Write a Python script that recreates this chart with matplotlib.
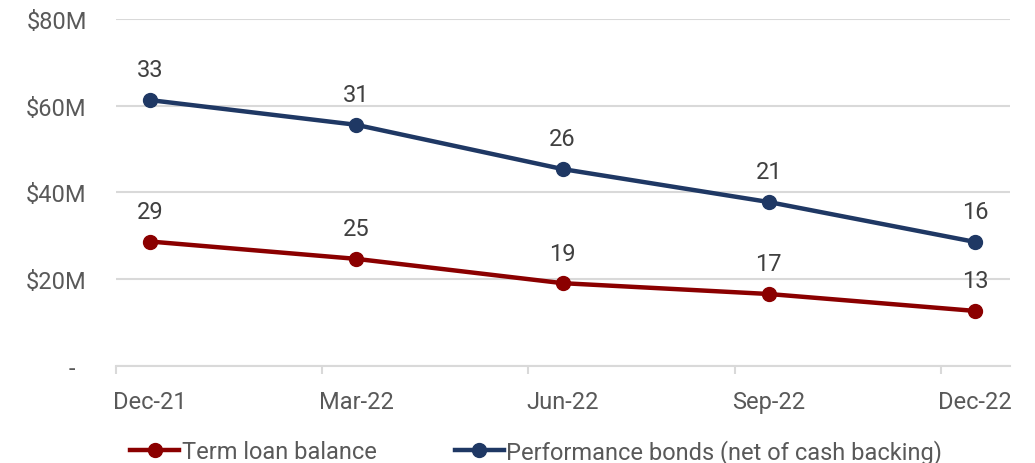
import matplotlib.pyplot as plt
import numpy as np

plt.rcParams['font.family'] = ['Roboto', 'DejaVu Sans']

quarters = ['Dec-21', 'Mar-22', 'Jun-22', 'Sep-22', 'Dec-22']
term_loan = [28.7, 24.7, 19.1, 16.6, 12.7]
perf_bonds = [32.6, 30.9, 26.3, 21.2, 15.9]
yticks = [0, 20, 40, 60, 80]
ytick_labels = ['-  ', '$20M', '$40M', '$60M', '$80M']

red = '#8B0000'
navy = '#1F3864'
txt = '#404040'
lbl = '#595959'

x = np.arange(len(quarters))
loan = np.array(term_loan)
stacked = loan + np.array(perf_bonds)

fig = plt.figure(figsize=(10.35, 4.64), dpi=100)
ax = fig.add_axes([0.112, 0.209, 0.864, 0.748])

ax.plot(x, loan, color=red, lw=3.2, marker='o', ms=10, label='Term loan balance', zorder=3)
ax.plot(x, stacked, color=navy, lw=3.2, marker='o', ms=10,
        label='Performance bonds (net of cash backing)', zorder=3)

for xi, yv, v in zip(x, loan, term_loan):
    ax.annotate('%d' % round(v), (xi, yv), xytext=(0, 17), textcoords='offset points',
                ha='center', va='baseline', fontsize=17, color=txt)
for xi, yv, v in zip(x, stacked, perf_bonds):
    ax.annotate('%d' % round(v), (xi, yv), xytext=(0, 17), textcoords='offset points',
                ha='center', va='baseline', fontsize=17, color=txt)

ax.set_xlim(-0.165, 4.17)
ax.set_ylim(0, 80)
ax.set_yticks(yticks)
ax.set_yticklabels(ytick_labels)
ax.set_xticks(x)
ax.set_xticklabels(quarters)
ax.tick_params(axis='both', length=0, labelsize=17, labelcolor=lbl)
ax.tick_params(axis='x', pad=17)
ax.tick_params(axis='y', pad=21)
ax.set_xticks(np.arange(5) - 0.165, minor=True)
ax.tick_params(axis='x', which='minor', length=6, color='#d9d9d9', width=1.5)

ax.grid(axis='y', color='#d9d9d9', lw=1.5)
ax.set_axisbelow(True)
for s in ['top', 'right', 'left']:
    ax.spines[s].set_visible(False)
ax.spines['bottom'].set_color('#d9d9d9')
ax.spines['bottom'].set_linewidth(1.5)

fig.legend(loc='lower center', bbox_to_anchor=(0.518, -0.048), ncol=2, frameon=False,
           fontsize=17, labelcolor=lbl, handlelength=2.1, handletextpad=0.1, columnspacing=3.3)

fig.savefig('out.png', dpi=100)
